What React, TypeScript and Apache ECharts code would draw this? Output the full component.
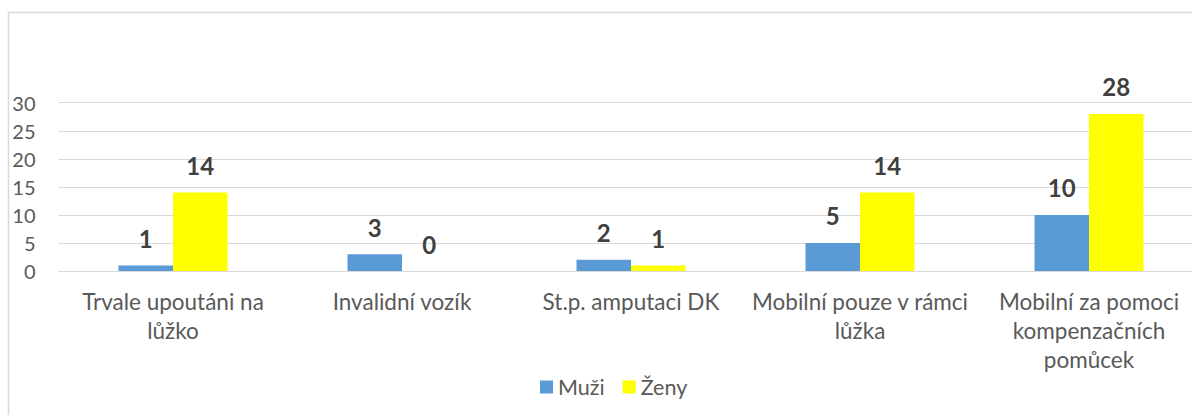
import React, { useEffect, useRef } from "react";
import * as echarts from "echarts";

const categories = [
  "Trvale upoutáni na\nlůžko",
  "Invalidní vozík",
  "St.p. amputaci DK",
  "Mobilní pouze v rámci\nlůžka",
  "Mobilní za pomoci\nkompenzačních\npomůcek",
];
const muzi = [1, 3, 2, 5, 10];
const zeny = [14, 0, 1, 14, 28];
const seriesNames = ["Muži", "Ženy"];

const FONT = "Lato, 'Noto Sans', sans-serif";

export default function App() {
  const ref = useRef<HTMLDivElement>(null);
  useEffect(() => {
    if (!ref.current) return;
    const chart = echarts.init(ref.current, null, { renderer: "svg" });
    const label = {
      show: true,
      position: "top",
      distance: 15,
      fontSize: 24,
      fontWeight: "bold",
      color: "#404040",
      fontFamily: FONT,
    };
    chart.setOption({
      animation: false,
      backgroundColor: "#ffffff",
      textStyle: { fontFamily: FONT },
      graphic: [
        {
          type: "rect",
          shape: { x: 8.5, y: 12.5, width: 1400, height: 600 },
          style: { fill: "none", stroke: "#d9d9d9", lineWidth: 1.5 },
          silent: true,
          z: -10,
        },
      ],
      grid: { left: 58.5, right: 1215 - 1203.5, top: 102.7, bottom: 415 - 271 },
      legend: {
        data: seriesNames,
        left: 535,
        top: 371,
        itemWidth: 13,
        itemHeight: 13,
        itemGap: 18,
        icon: "rect",
        textStyle: { fontSize: 21.5, color: "#595959", fontFamily: FONT },
      },
      xAxis: {
        type: "category",
        data: categories,
        axisLine: { lineStyle: { color: "#d9d9d9", width: 1 } },
        axisTick: { show: false },
        axisLabel: {
          fontSize: 22.5,
          color: "#595959",
          lineHeight: 29,
          margin: 16,
          interval: 0,
          fontFamily: FONT,
        },
      },
      yAxis: {
        type: "value",
        min: 0,
        max: 30,
        interval: 5,
        axisLine: { show: false },
        axisTick: { show: false },
        splitLine: { lineStyle: { color: "#d9d9d9", width: 1 } },
        axisLabel: {
          fontSize: 20,
          color: "#595959",
          margin: 23,
          fontFamily: FONT,
        },
      },
      series: [
        {
          name: seriesNames[0],
          type: "bar",
          data: muzi,
          barWidth: 54.5,
          barGap: "0%",
          itemStyle: { color: "#5b9bd5" },
          label,
        },
        {
          name: seriesNames[1],
          type: "bar",
          data: zeny,
          barWidth: 54.5,
          barGap: "0%",
          itemStyle: { color: "#ffff00" },
          label,
        },
      ],
    });
    return () => chart.dispose();
  }, []);
  return (
    <div
      style={{
        position: "fixed",
        left: 0,
        top: 0,
        width: 1192,
        height: 415,
        overflow: "hidden",
        background: "#fff",
      }}
    >
      <div ref={ref} style={{ width: 1215, height: 415 }} />
    </div>
  );
}
